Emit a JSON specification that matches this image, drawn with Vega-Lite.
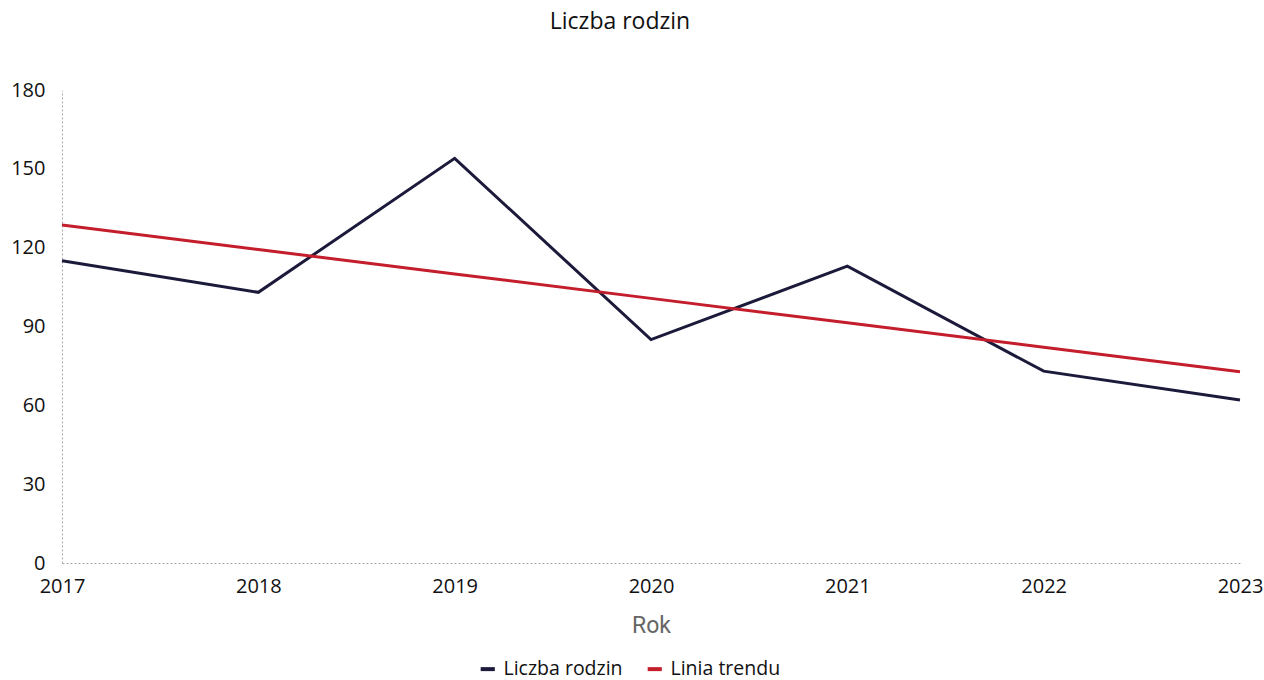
{
  "$schema": "https://vega.github.io/schema/vega-lite/v6.json",
  "autosize": {"type": "none"},
  "width": 1178,
  "height": 473,
  "padding": {"left": 62, "top": 90, "right": 24, "bottom": 117},
  "background": "white",
  "title": {"text": "Liczba rodzin", "fontSize": 23, "fontWeight": "normal", "font": "Open Sans", "color": "#111", "offset": 46, "dx": -31, "anchor": "middle"},
  "config": {"view": {"stroke": null}, "font": "Open Sans"},
  "data": {"values": [
    {"rok": "2017", "seria": "Liczba rodzin", "wartosc": 115},
    {"rok": "2018", "seria": "Liczba rodzin", "wartosc": 103},
    {"rok": "2019", "seria": "Liczba rodzin", "wartosc": 154},
    {"rok": "2020", "seria": "Liczba rodzin", "wartosc": 85},
    {"rok": "2021", "seria": "Liczba rodzin", "wartosc": 113},
    {"rok": "2022", "seria": "Liczba rodzin", "wartosc": 73},
    {"rok": "2023", "seria": "Liczba rodzin", "wartosc": 62},
    {"rok": "2017", "seria": "Linia trendu", "wartosc": 128.6},
    {"rok": "2018", "seria": "Linia trendu", "wartosc": 119.3},
    {"rok": "2019", "seria": "Linia trendu", "wartosc": 110.0},
    {"rok": "2020", "seria": "Linia trendu", "wartosc": 100.7},
    {"rok": "2021", "seria": "Linia trendu", "wartosc": 91.4},
    {"rok": "2022", "seria": "Linia trendu", "wartosc": 82.1},
    {"rok": "2023", "seria": "Linia trendu", "wartosc": 72.8}
  ]},
  "mark": {"type": "line", "strokeWidth": 3},
  "encoding": {
    "x": {"field": "rok", "type": "ordinal", "scale": {"type": "point", "padding": 0},
      "axis": {"title": "Rok", "titleFontSize": 23, "titleFontWeight": "normal", "titleColor": "#666", "titleFont": "Roboto", "titlePadding": 18,
        "labelAngle": 0, "labelFontSize": 20, "labelColor": "#111", "labelPadding": 13, "ticks": false,
        "domainColor": "#aaa", "domainDash": [2, 2], "domainWidth": 1, "grid": false}},
    "y": {"field": "wartosc", "type": "quantitative", "scale": {"domain": [0, 180]},
      "axis": {"title": null, "values": [0, 30, 60, 90, 120, 150, 180], "labelFontSize": 20, "labelColor": "#111", "labelPadding": 17, "ticks": false,
        "domainColor": "#aaa", "domainDash": [2, 2], "domainWidth": 1, "grid": false}},
    "color": {"field": "seria", "type": "nominal",
      "scale": {"domain": ["Liczba rodzin", "Linia trendu"], "range": ["#1c1a3a", "#c41e2c"]},
      "legend": {"title": null, "orient": "none", "legendX": 416, "legendY": 569, "direction": "horizontal",
        "symbolType": "stroke", "symbolSize": 200, "symbolStrokeWidth": 4, "labelFontSize": 19.5, "labelColor": "#111", "columnPadding": 16, "labelOffset": 6}}
  }
}
